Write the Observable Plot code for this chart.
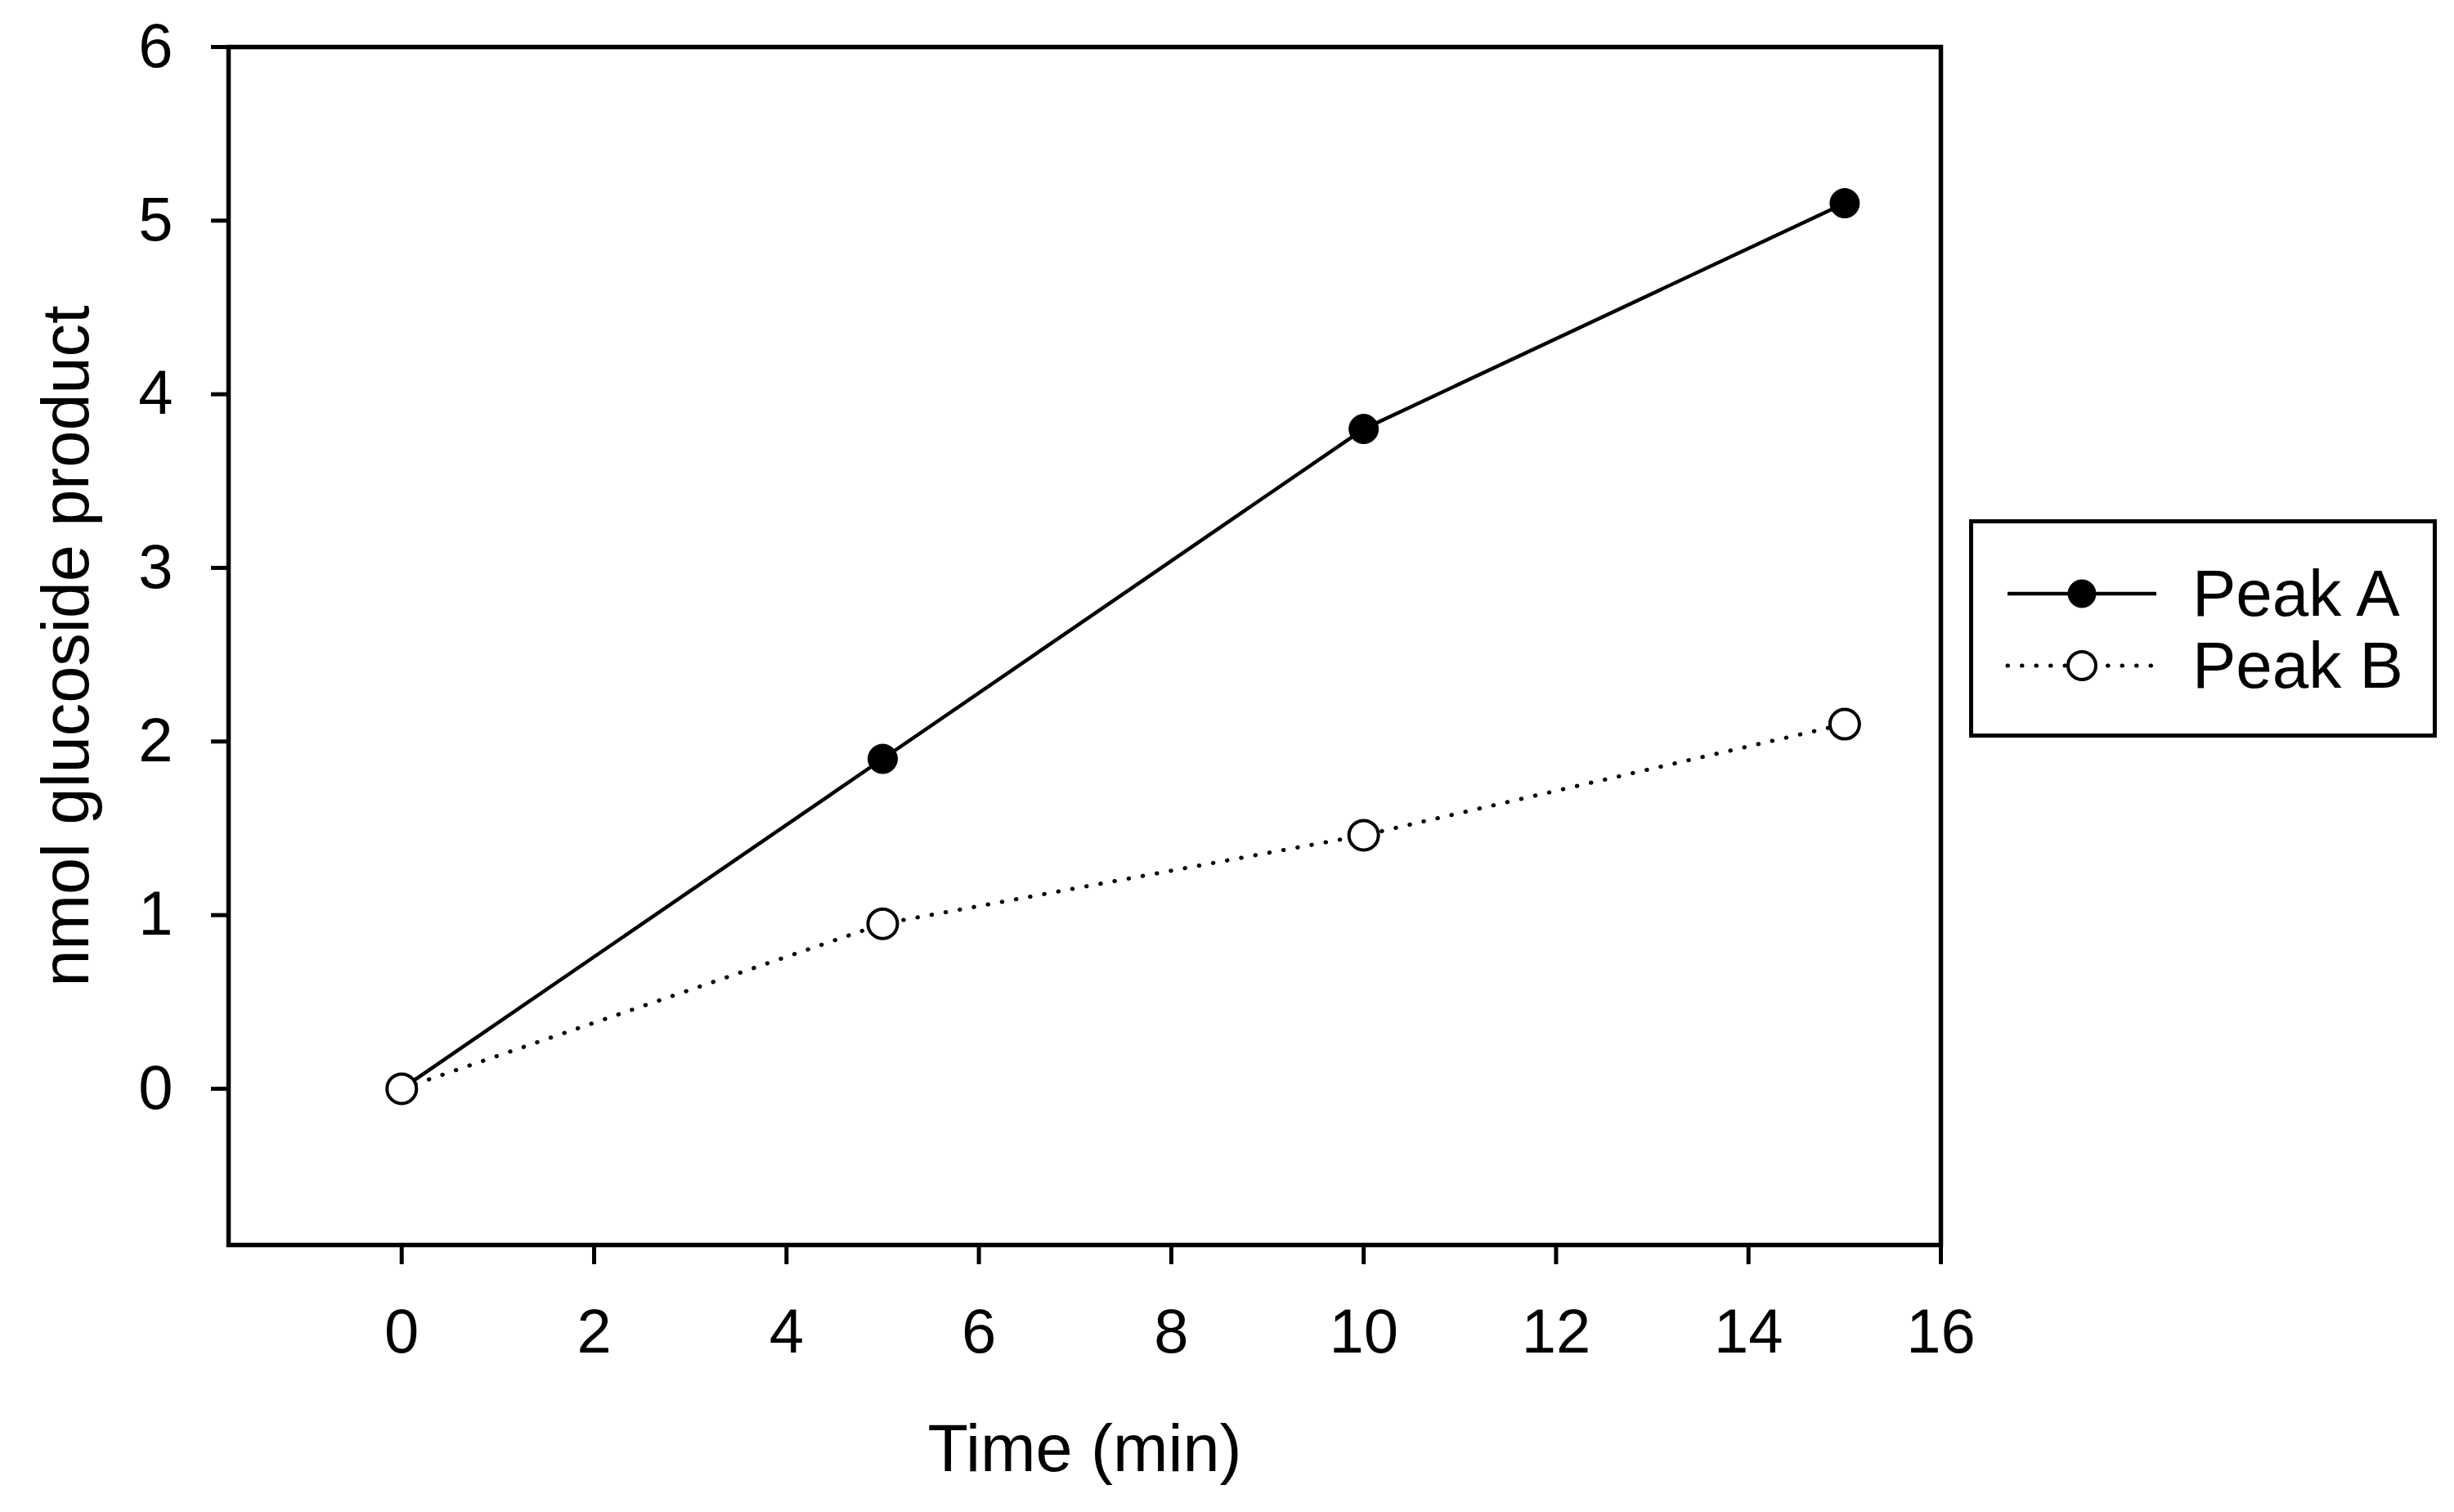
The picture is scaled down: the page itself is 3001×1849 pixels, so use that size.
<!DOCTYPE html>
<html>
<head>
<meta charset="utf-8">
<script src="https://cdn.jsdelivr.net/npm/d3@7"></script>
<script src="https://cdn.jsdelivr.net/npm/@observablehq/plot@0.6"></script>
<style>
  html, body { margin: 0; padding: 0; background: #fff; }
  #wrap { position: relative; width: 3001px; height: 1849px; font-family: "Liberation Sans", Arial, sans-serif; }
  #legend { position: absolute; left: 2408px; top: 635px; width: 562px; height: 257px; border: 5px solid #000; background: #fff; }
  #legend .lbl { position: absolute; left: 268px; font-size: 80px; line-height: 80px; color: #000; white-space: nowrap; }
</style>
</head>
<body>
<div id="wrap"></div>
<script>
const times = [0, 5, 10, 15];
const peakA = [0, 1.9, 3.8, 5.1];
const peakB = [0, 0.95, 1.46, 2.1];
const xTicks = [0, 2, 4, 6, 8, 10, 12, 14, 16];
const yTicks = [0, 1, 2, 3, 4, 5, 6];
const seriesNames = ["Peak A", "Peak B"];

const dataA = times.map((t, i) => ({time: t, value: peakA[i]}));
const dataB = times.map((t, i) => ({time: t, value: peakB[i]}));

const chart = Plot.plot({
  width: 3001,
  height: 1849,
  marginLeft: 279,
  marginRight: 628,
  marginTop: 57,
  marginBottom: 327,
  style: {fontFamily: "'Liberation Sans', Arial, sans-serif", color: "#000", background: "#fff"},
  x: {domain: [-1.8, 16]},
  y: {domain: [-0.9, 6]},
  marks: [
    Plot.frame({stroke: "#000", strokeWidth: 5.5}),
    Plot.axisX({ticks: xTicks, tickFormat: d => String(d), tickSize: 24, tickPadding: 54, fontSize: 76, stroke: "#000", strokeWidth: 5, label: null}),
    Plot.axisY({ticks: yTicks, tickFormat: d => String(d), tickSize: 21, tickPadding: 47, fontSize: 76, stroke: "#000", strokeWidth: 5, label: null}),
    Plot.text(["Time (min)"], {frameAnchor: "bottom", dy: 276, fontSize: 81, fill: "#000", textAnchor: "middle"}),
    Plot.text(["nmol glucoside product"], {frameAnchor: "left", dx: -197, rotate: -90, fontSize: 81, fill: "#000", textAnchor: "middle"}),
    Plot.line(dataA, {x: "time", y: "value", stroke: "#000", strokeWidth: 4.5}),
    Plot.dot(dataA, {x: "time", y: "value", r: 18, fill: "#000", stroke: "#000", strokeWidth: 1}),
    Plot.line(dataB, {x: "time", y: "value", stroke: "#000", strokeWidth: 5, strokeDasharray: "0.5,17", strokeLinecap: "round"}),
    Plot.dot(dataB, {x: "time", y: "value", r: 18, fill: "#fff", stroke: "#000", strokeWidth: 4})
  ]
});

const wrap = document.getElementById("wrap");
wrap.appendChild(chart);

const legend = document.createElement("div");
legend.id = "legend";
const rowsY = [86, 174];
seriesNames.forEach((name, i) => {
  const cy = rowsY[i];
  const svgNS = "http://www.w3.org/2000/svg";
  const svg = document.createElementNS(svgNS, "svg");
  svg.setAttribute("width", "240");
  svg.setAttribute("height", "60");
  svg.style.position = "absolute";
  svg.style.left = "38px";
  svg.style.top = (cy - 30) + "px";
  const line = document.createElementNS(svgNS, "line");
  line.setAttribute("x1", "4"); line.setAttribute("x2", "186");
  line.setAttribute("y1", "30"); line.setAttribute("y2", "30");
  line.setAttribute("stroke", "#000");
  if (i === 0) {
    line.setAttribute("stroke-width", "4.5");
  } else {
    line.setAttribute("stroke-width", "5");
    line.setAttribute("stroke-dasharray", "0.5,17");
    line.setAttribute("stroke-linecap", "round");
  }
  svg.appendChild(line);
  const c = document.createElementNS(svgNS, "circle");
  c.setAttribute("cx", "95"); c.setAttribute("cy", "30"); c.setAttribute("r", "17");
  c.setAttribute("fill", i === 0 ? "#000" : "#fff");
  c.setAttribute("stroke", "#000");
  c.setAttribute("stroke-width", i === 0 ? "1" : "4");
  svg.appendChild(c);
  legend.appendChild(svg);
  const lbl = document.createElement("div");
  lbl.className = "lbl";
  lbl.textContent = name;
  lbl.style.top = (cy - 40) + "px";
  legend.appendChild(lbl);
});
wrap.appendChild(legend);
</script>
</body>
</html>
